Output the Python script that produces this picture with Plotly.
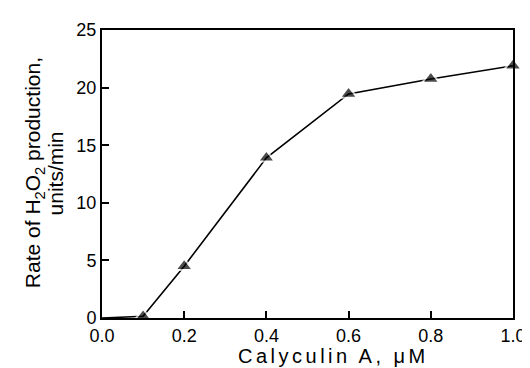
import plotly.graph_objects as go

calyculin = [0.0, 0.1, 0.2, 0.4, 0.6, 0.8, 1.0]
rate = [0.0, 0.15, 4.5, 13.9, 19.45, 20.75, 21.9]
x_ticks = [0.0, 0.2, 0.4, 0.6, 0.8, 1.0]
x_tick_labels = ["0.0", "0.2", "0.4", "0.6", "0.8", "1.0"]
y_ticks = [0, 5, 10, 15, 20, 25]
x_title = "Calyculin A, μM"
y_title_1 = "Rate of H<sub>2</sub>O<sub>2</sub> production,"
y_title_2 = "units/min"

L, R, T, B, W, H = 94, 12, 20, 58, 530, 368
PW = W - L - R
PH = H - T - B

def px_x(p):
    return (p - L) / PW

def px_y(p):
    return (H - B - p) / PH

fig = go.Figure()
fig.add_trace(go.Scatter(
    x=calyculin, y=rate, mode="lines+markers",
    line=dict(color="black", width=1.6),
    marker=dict(symbol=["circle"] + ["triangle-up"] * 6,
                size=[0] + [15] * 6, color="black",
                line=dict(color="white", width=2)),
    cliponaxis=False, showlegend=False,
))

fam = "Liberation Sans, Arial, Helvetica, sans-serif"
tick_font = dict(family=fam, size=18, color="black")
title_font = dict(family=fam, size=21, color="black")
x_title_font = dict(family=fam, size=20, color="black")

fig.add_annotation(text='<span style="letter-spacing:3.5px">' + x_title + '</span>',
                   xref="paper", yref="paper", x=px_x(333), y=px_y(348),
                   xanchor="center", yanchor="middle", showarrow=False,
                   borderpad=0, font=x_title_font)
fig.add_annotation(text=y_title_1, textangle=-90,
                   xref="paper", yref="paper", x=px_x(24), y=px_y(164),
                   xanchor="center", yanchor="middle", showarrow=False,
                   font=title_font)
fig.add_annotation(text=y_title_2, textangle=-90,
                   xref="paper", yref="paper", x=px_x(46), y=px_y(164),
                   xanchor="center", yanchor="middle", showarrow=False,
                   font=title_font)

fig.update_layout(
    width=W, height=H,
    margin=dict(l=L, r=R, t=T, b=B),
    paper_bgcolor="white", plot_bgcolor="white",
    font=tick_font,
    xaxis=dict(range=[0, 1.0], tickvals=x_ticks, ticktext=x_tick_labels,
               ticks="inside", ticklen=7, tickwidth=1.5, tickcolor="black",
               showline=True, linecolor="black", linewidth=2, mirror=True,
               showgrid=False, zeroline=False, tickfont=tick_font),
    yaxis=dict(range=[0, 25], tickvals=y_ticks,
               ticks="inside", ticklen=7, tickwidth=1.5, tickcolor="black",
               showline=True, linecolor="black", linewidth=2, mirror=True,
               showgrid=False, zeroline=False, tickfont=tick_font),
)
fig.write_html("out.html")
